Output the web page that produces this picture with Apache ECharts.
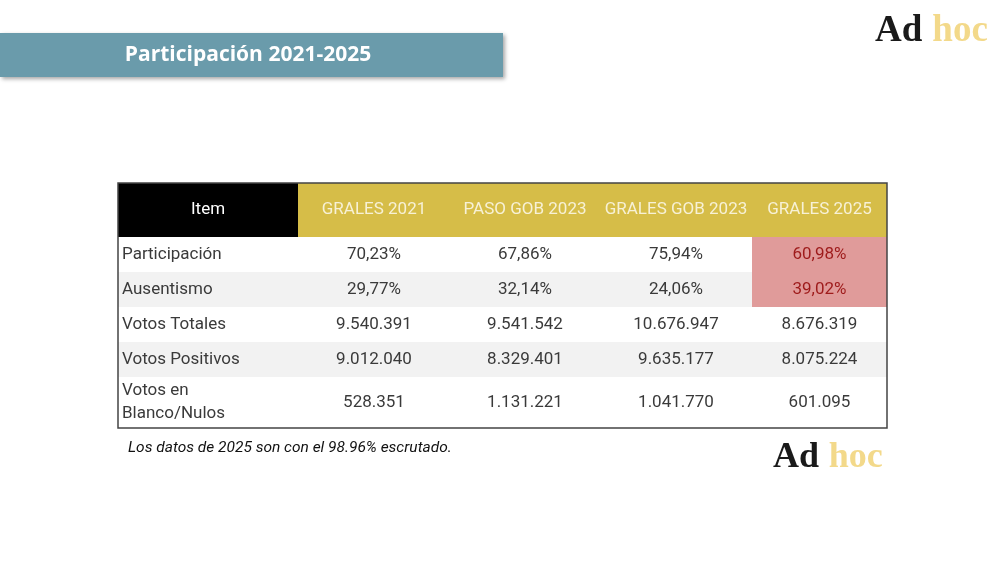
<!DOCTYPE html>
<html>
<head>
<meta charset="utf-8">
<script src="https://cdn.jsdelivr.net/npm/echarts@6/dist/echarts.min.js"></script>
<style>
  html, body { margin: 0; padding: 0; background: #fff; }
  #main { width: 1000px; height: 561px; }
</style>
</head>
<body>
<div id="main"></div>
<script>
// datos de la tabla
const columns = ['Item', 'GRALES 2021', 'PASO GOB 2023', 'GRALES GOB 2023', 'GRALES 2025']
const items = ['Participación', 'Ausentismo', 'Votos Totales', 'Votos Positivos', 'Votos en\nBlanco/Nulos']
const grales2021 = [70.23, 29.77, 9540391, 9012040, 528351]
const pasoGob2023 = [67.86, 32.14, 9541542, 8329401, 1131221]
const gralesGob2023 = [75.94, 24.06, 10676947, 9635177, 1041770]
const grales2025 = [60.98, 39.02, 8676319, 8075224, 601095]
const percentRows = [0, 1]
const note = 'Los datos de 2025 son con el 98.96% escrutado.'

// layout
const table = { left: 118, top: 183, width: 769, height: 245 }
const colWidths = [180, 152, 150, 152, 135]
const rowHeights = [54, 35, 35, 35, 35, 51]
const highlighted = ['4-1', '4-2']

const colEdges = [0]
colWidths.forEach(w => colEdges.push(colEdges[colEdges.length - 1] + w))
const rowEdges = [0]
rowHeights.forEach(h => rowEdges.push(rowEdges[rowEdges.length - 1] + h))

const fmt = (v, row) => {
  if (percentRows.indexOf(row) >= 0) return v.toFixed(2).replace('.', ',') + '%'
  return String(v).replace(/\B(?=(\d{3})+(?!\d))/g, '.')
}

const values = [grales2021, pasoGob2023, gralesGob2023, grales2025]
const cells = []
columns.forEach((c, ci) => cells.push([ci, 0, c]))
items.forEach((it, ri) => {
  cells.push([0, ri + 1, it])
  values.forEach((serie, ci) => cells.push([ci + 1, ri + 1, fmt(serie[ri], ri)]))
})

const renderCell = (params, api) => {
  const col = api.value(0)
  const row = api.value(1)
  const text = cells[params.dataIndex][2]
  const p0 = api.coord([colEdges[col], rowEdges[row]])
  const p1 = api.coord([colEdges[col + 1], rowEdges[row + 1]])
  const x = p0[0], y = p0[1], w = p1[0] - p0[0], h = p1[1] - p0[1]
  const hot = highlighted.indexOf(col + '-' + row) >= 0

  let fill = row % 2 === 0 ? '#f2f2f2' : '#ffffff'
  let color = '#3a3a3a'
  if (row === 0) {
    fill = col === 0 ? '#000000' : '#d6bd48'
    color = col === 0 ? '#ffffff' : '#f7f1d6'
  } else if (hot) {
    fill = '#e09b9a'
    color = '#9e1b1b'
  }
  const leftAlign = row > 0 && col === 0
  return {
    type: 'group',
    children: [
      { type: 'rect', shape: { x, y, width: w, height: h }, style: { fill } },
      {
        type: 'text',
        style: {
          text,
          x: leftAlign ? x + 4 : x + w / 2,
          y: y + h / 2,
          align: leftAlign ? 'left' : 'center',
          verticalAlign: 'middle',
          fill: color,
          font: '17px Roboto',
          lineHeight: 23
        }
      }
    ]
  }
}

// logo Ad hoc
const logo = (x, y, size) => [
  {
    type: 'text', x, y,
    style: { text: 'Ad', verticalAlign: 'bottom', fill: '#1a1a1a', font: 'bold ' + size + 'px "Liberation Serif"' }
  },
  {
    type: 'text', x: x + size * 1.55, y,
    style: { text: 'hoc', verticalAlign: 'bottom', fill: '#f3d98a', font: 'bold ' + size + 'px "Liberation Serif"' }
  }
]

const chart = echarts.init(document.getElementById('main'))
chart.setOption({
  animation: false,
  grid: { left: table.left, top: table.top, width: table.width, height: table.height },
  xAxis: { type: 'value', min: 0, max: colEdges[colEdges.length - 1], show: false },
  yAxis: { type: 'value', min: 0, max: rowEdges[rowEdges.length - 1], inverse: true, show: false },
  series: [{
    type: 'custom',
    renderItem: renderCell,
    data: cells.map(c => [c[0], c[1]]),
    encode: { x: 0, y: 1 },
    clip: false
  }],
  graphic: [
    {
      type: 'rect',
      shape: { x: 0, y: 33, width: 503, height: 44 },
      style: { fill: '#6a9bab', shadowBlur: 4, shadowColor: 'rgba(0,0,0,0.35)', shadowOffsetX: 2, shadowOffsetY: 2 }
    },
    {
      type: 'text',
      x: 248, y: 55,
      style: { text: 'Participación 2021-2025', align: 'center', verticalAlign: 'middle', fill: '#ffffff', font: 'bold 21px "Open Sans"' }
    },
    {
      type: 'rect',
      z: 100,
      shape: { x: table.left, y: table.top, width: table.width, height: table.height },
      style: { fill: null, stroke: '#444', lineWidth: 1.5 }
    },
    {
      type: 'text',
      x: 128, y: 448,
      style: { text: note, verticalAlign: 'middle', fill: '#111', font: 'italic 15.5px Roboto' }
    },
    ...logo(875, 50, 37),
    ...logo(773, 476, 36)
  ]
})
</script>
</body>
</html>
